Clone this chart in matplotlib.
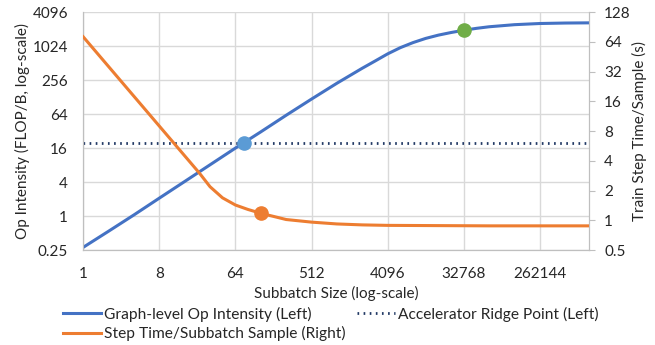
import numpy as np
import matplotlib
matplotlib.use('Agg')
import matplotlib.pyplot as plt
from matplotlib.lines import Line2D

plt.rcParams['font.family'] = ['Lato', 'DejaVu Sans']

# graph-level op intensity (left axis)
blue_x = [1, 2, 4, 8, 16, 32, 64, 128, 256, 512, 1024, 2048, 2896, 4096, 5793,
          8192, 11585, 16384, 23170, 32768, 46341, 65536, 131072, 262144,
          524288, 1000000]
blue_y = [0.28, 0.54, 1.05, 2.08, 4.1, 8.1, 16, 31, 61, 118, 225, 415, 555, 745,
          960, 1180, 1400, 1600, 1780, 1950, 2110, 2250, 2450, 2570, 2620, 2640]

# step time / subbatch sample (right axis)
orange_x = [1, 2, 4, 8, 16, 24, 32, 45, 64, 90, 128, 256, 512, 1024, 2048,
            4096, 16384, 65536, 262144, 1000000]
orange_y = [72, 36, 18, 9, 4.5, 3.0, 2.19, 1.69, 1.43, 1.29, 1.18, 1.02, 0.96,
            0.92, 0.90, 0.89, 0.885, 0.88, 0.88, 0.88]

ridge = 19.5
ridge_pt = (80, 19.5)
step_pt = (128, 1.18)
sat_pt = (32768, 1950)

xticks = [1, 8, 64, 512, 4096, 32768, 262144]
lticks = [0.25, 1, 4, 16, 64, 256, 1024, 4096]
rticks = [0.5, 1, 2, 4, 8, 16, 32, 64, 128]

fig = plt.figure(figsize=(6.55, 3.45), dpi=100)
ax = fig.add_axes([0.127, 0.275, 0.772, 0.69])
ax2 = ax.twinx()

ax.plot(blue_x, blue_y, color='#4472C4', lw=2.2, zorder=3)
ax.plot([1, 1000000], [ridge, ridge], color='#203864', lw=2, ls=(0, (0.6, 1.6)),
        zorder=2)
ax2.plot(orange_x, orange_y, color='#ED7D31', lw=2.2, zorder=3)

ax.plot(*ridge_pt, 'o', color='#5B9BD5', ms=9.5, zorder=5)
ax.plot(*sat_pt, 'o', color='#70AD47', ms=9.5, zorder=5)
ax2.plot(*step_pt, 'o', color='#ED7D31', ms=9.5, zorder=5)

ax.set_xscale('log', base=2)
ax.set_yscale('log', base=2)
ax2.set_yscale('log', base=2)
ax.set_xlim(1, 1000000)
ax.set_ylim(0.25, 4096)
ax2.set_ylim(0.5, 128)

ax.set_xticks(xticks)
ax.set_xticklabels([str(v) for v in xticks])
ax.set_yticks(lticks)
ax.set_yticklabels(['0.25' if v < 1 else str(v) for v in lticks])
ax2.set_yticks(rticks)
ax2.set_yticklabels(['0.5' if v < 1 else str(v) for v in rticks])
ax.minorticks_off()
ax2.minorticks_off()

ax.grid(True, color='#D9D9D9', lw=1)
ax.set_axisbelow(True)
for a in (ax, ax2):
    a.spines['top'].set_visible(False)
    for s in ('left', 'bottom', 'right'):
        a.spines[s].set_color('#BFBFBF')
ax.tick_params(axis='x', length=0, labelsize=11, colors='#262626', pad=12)
ax.tick_params(axis='y', length=0, labelsize=11, colors='#262626', pad=11)
ax2.tick_params(axis='y', length=4, color='#BFBFBF', labelsize=11,
                labelcolor='#262626', pad=7)

ax.set_xlabel('Subbatch Size (log-scale)', fontsize=11, color='#262626', labelpad=4)
ax.set_ylabel('Op Intensity (FLOP/B, log-scale)', fontsize=11, color='#262626',
              labelpad=2)
ax2.set_ylabel('Train Step Time/Sample (s)', fontsize=11, color='#262626',
               labelpad=1)

handles = [Line2D([], [], color='#4472C4', lw=2.2),
           Line2D([], [], color='#ED7D31', lw=2.2),
           Line2D([], [], color='#203864', lw=2, ls=(0, (0.6, 1.6)))]
labels = ['Graph-level Op Intensity (Left)', 'Step Time/Subbatch Sample (Right)',
          'Accelerator Ridge Point (Left)']
fig.legend(handles, labels, ncol=2, loc='lower left', bbox_to_anchor=(0.075, -0.03),
           frameon=False, fontsize=11.2, handlelength=2.45, handletextpad=0.2,
           columnspacing=0.7, labelspacing=0.3, labelcolor='#262626')

fig.savefig('out.png', dpi=100)
